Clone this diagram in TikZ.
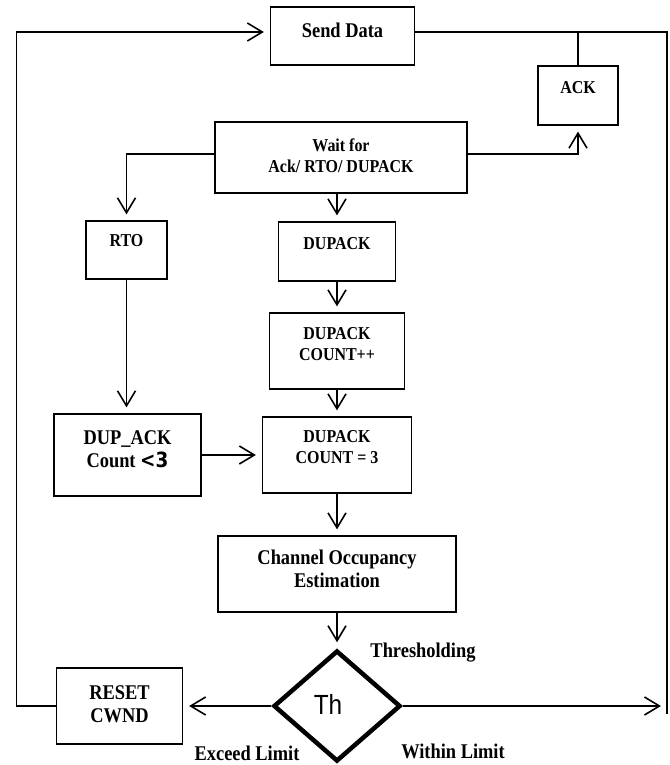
\documentclass[tikz,border=0pt]{standalone}
\usepackage{fontspec}
\setmainfont{Liberation Serif}[FakeStretch=0.88]
\newfontfamily\symfont{DejaVu Sans}[FakeStretch=0.88]
\newfontfamily\thfont{Liberation Sans}[FakeStretch=0.88]
\usetikzlibrary{arrows.meta,shapes.geometric}

\begin{document}
\begin{tikzpicture}[x=1bp,y=-1bp,line width=1.5bp,
		>={Straight Barb[length=15bp,width=18bp,line width=1.6bp]},
		flow/.style={->,shorten >=6bp},
		box/.style={draw,line width=1.2bp,inner sep=0pt},
		sm/.style={font=\bfseries\fontsize{18.2}{21}\selectfont,align=center},
		lg/.style={font=\bfseries\fontsize{21}{23}\selectfont,align=center}]

			\useasboundingbox (0,0) rectangle (670,765);

			% Boxes
			\node[box,minimum width=144bp,minimum height=58bp,label={[lg,yshift=6bp]center:Send Data}] (send) at (342.5,36) {};
			\node[box,minimum width=80bp,minimum height=59bp,label={[sm,yshift=8bp]center:ACK}] (ack) at (578,95.5) {};
			\node[box,minimum width=252bp,minimum height=71bp,label={[sm,yshift=1.5bp]center:Wait for\\Ack/ RTO/ DUPACK}] (wait) at (341,157.5) {};
			\node[box,minimum width=81bp,minimum height=58bp,label={[sm,yshift=9bp]center:RTO}] (rto) at (126.5,250) {};
			\node[box,minimum width=117bp,minimum height=59bp,label={[sm,yshift=8bp]center:DUPACK}] (dup) at (337,251.5) {};
			\node[box,minimum width=135bp,minimum height=76bp,label={[sm,yshift=7bp]center:DUPACK\\COUNT++}] (cnt) at (337,351) {};
			\node[box,minimum width=147bp,minimum height=82bp,label={[lg,yshift=5.5bp]center:DUP\_ACK\\Count {\symfont\fontsize{21}{23}\selectfont <3}}] (lt3) at (127.5,455) {};
			\node[box,minimum width=149bp,minimum height=76bp,label={[sm,yshift=8bp]center:DUPACK\\COUNT = 3}] (eq3) at (337,455) {};
			\node[box,minimum width=238bp,minimum height=76bp,label={[lg,yshift=5.5bp]center:Channel Occupancy\\Estimation}] (chan) at (337,574) {};
			\node[box,minimum width=126bp,minimum height=76bp,label={[lg,yshift=2bp]center:RESET\\CWND}] (reset) at (119.5,706) {};

			% Decision
			\node[draw,diamond,line width=4.5bp,inner sep=0pt,minimum width=127bp,minimum height=111bp,
			      font=\thfont\fontsize{27.8}{27.8}\selectfont] (th) at (337,706) {\raisebox{4bp}{Th}\hspace*{18bp}};

			% Labels
			\node[lg] (thr) at (423,653) {Thresholding};
			\node[lg,inner sep=1bp] (exc) at (247,753) {Exceed Limit};
			\node[lg,inner sep=1bp] (win) at (453,751) {Within Limit};

			% Loop corners
			\coordinate (tl) at (16.5,32);
			\coordinate (tr) at (667,32);
			\coordinate (br) at (667,714);

			% Edges
			\draw[flow] (reset.west) -| (tl) -- (tl -| send.west);
			\draw (tl -| send.east) -- (tr) -- (br);
			\draw (ack.north) -- (ack.north |- tr);
			\draw[flow] ([yshift=3.5bp]wait.east) -| (ack.south);
			\draw[flow] ([yshift=3.5bp]wait.west) -| (rto.north);
			\draw[flow] (dup.north |- wait.south) -- (dup.north);
			\draw[flow] (dup.south) -- (cnt.north);
			\draw[flow] (cnt.south) -- (eq3.north);
			\draw[flow] (rto.south) -- (rto.south |- lt3.north);
			\draw[flow] (lt3.east) -- (eq3.west);
			\draw[flow] (eq3.south) -- (chan.north);
			\draw[flow] (chan.south) -- (th.north);
			\draw[flow] (th.west) -- (reset.east);
			\draw[flow] (th.east) -- (th.east -| br);

		\end{tikzpicture}
\end{document}
